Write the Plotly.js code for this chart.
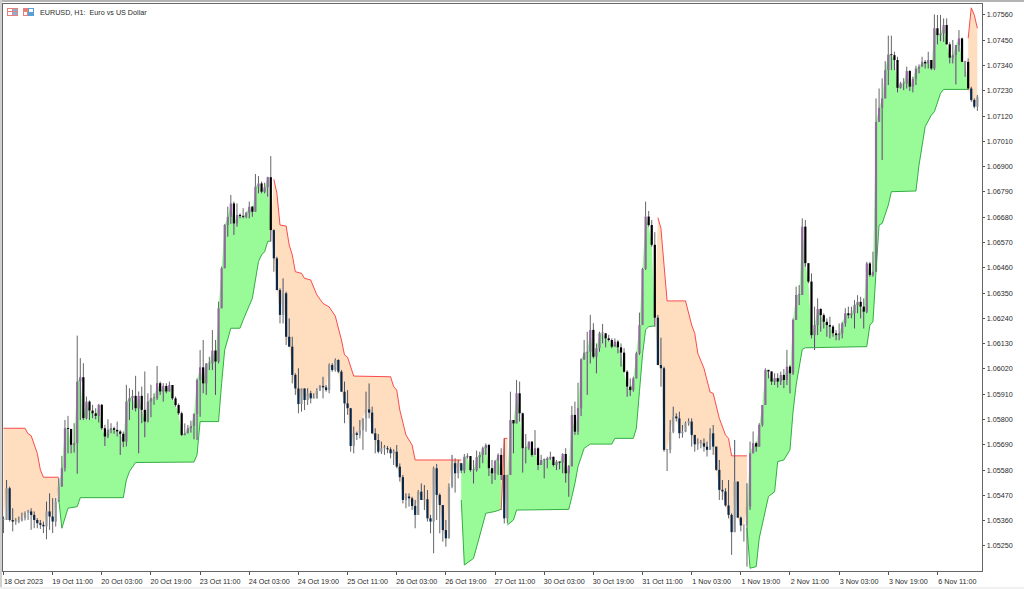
<!DOCTYPE html>
<html><head><meta charset="utf-8">
<script src="https://cdn.plot.ly/plotly-3.0.1.min.js"></script>
<style>html,body{margin:0;padding:0;background:#fff}#c{width:1024px;height:589px}</style>
</head><body><div id="c"></div>
<script>
// values are points above 1.05000 (1 point = 0.00001)
const BASE = 1.05;
const closes = [
363,501,363,356,356,361,371,395,400,385,
363,349,342,335,400,378,356,443,508,588,
762,759,690,697,965,984,806,878,839,827,
816,864,762,726,755,762,755,748,738,704,
878,893,903,849,903,842,791,878,893,893,
958,922,946,922,950,892,863,827,733,740,
762,772,824,972,1027,957,1044,1044,1100,1052,
1284,1458,1646,1682,1740,1653,1690,1685,1682,1700,
1726,1704,1813,1827,1791,1810,1854,1624,1501,1363,
1255,1349,1160,1117,994,935,867,935,885,914,
892,892,925,946,940,928,1037,1015,1059,1008,
921,870,849,685,740,733,754,805,844,830,
740,711,660,675,675,670,653,660,595,549,
450,465,457,424,385,486,450,453,370,356,
588,472,428,319,283,508,610,566,610,578,
638,641,580,580,636,646,675,689,588,566,
621,646,559,370,559,798,783,914,827,675,
675,704,646,675,602,624,624,631,638,602,
617,612,650,566,598,820,747,849,1062,1091,
1095,1190,1073,1110,1175,1175,1153,1146,1117,1139,
1114,1091,1008,943,928,979,1088,1211,1455,1683,
1646,1560,1243,1037,1023,668,668,747,813,805,
740,747,784,791,733,692,697,697,682,668,
740,682,581,494,487,426,385,310,530,373,
339,339,421,653,697,682,777,863,1016,1009,
965,980,965,994,972,1030,1001,1233,1342,1342,
1639,1480,1400,1167,1211,1281,1254,1225,1211,1204,
1175,1167,1175,1218,1262,1254,1262,1298,1312,1291,
1269,1479,1429,1443,2095,2156,2197,2320,2388,2385,
2364,2243,2262,2262,2316,2248,2281,2327,2335,2356,
2349,2364,2327,2502,2472,2480,2516,2432,2374,2385,
2429,2458,2356,2356,2240,2190,2161,2204];
const highs = [
378,537,508,414,371,378,395,400,407,414,
400,371,363,356,443,479,458,458,545,642,
798,816,759,784,1165,1067,1045,900,883,864,
849,868,868,777,801,784,769,791,755,748,
951,936,929,990,922,943,1009,914,951,914,
1033,965,958,958,965,928,900,870,834,783,
776,795,827,979,1102,1146,1044,1073,1189,1146,
1313,1465,1650,1726,1777,1748,1740,1697,1719,1704,
1748,1729,1868,1859,1835,1830,1856,1946,1627,1508,
1371,1414,1356,1240,1160,1001,1023,935,914,936,
925,914,936,950,986,950,1044,1045,1066,1062,
1015,965,928,849,769,747,798,805,921,957,
856,762,737,704,689,685,679,670,689,609,
559,479,479,464,450,493,522,515,493,385,
595,607,479,428,363,522,646,631,624,610,
650,653,641,624,665,660,682,696,694,624,
621,653,675,718,559,921,798,972,965,830,
737,704,704,754,679,646,631,638,660,631,
624,617,653,675,602,859,878,960,1066,1146,
1182,1255,1219,1131,1182,1216,1175,1168,1153,1153,
1146,1131,1110,1015,979,986,1095,1265,1460,1748,
1707,1668,1615,1255,1156,1030,668,798,856,827,
834,776,791,805,805,733,718,711,718,704,
762,776,682,624,537,501,537,392,711,530,
378,339,523,704,748,704,784,863,1023,1016,
1008,1001,1001,1008,1020,1103,1037,1240,1378,1385,
1675,1668,1480,1436,1291,1327,1284,1262,1240,1247,
1211,1189,1218,1225,1284,1291,1291,1320,1341,1334,
1327,1486,1486,1530,2197,2240,2284,2359,2470,2470,
2400,2378,2269,2285,2335,2320,2291,2339,2345,2378,
2364,2400,2364,2562,2560,2560,2545,2545,2441,2451,
2429,2494,2461,2356,2371,2248,2197,2211];
const lows = [
306,363,356,313,342,349,356,361,363,320,
327,327,324,306,279,320,306,334,443,508,
574,653,653,656,564,798,798,801,798,806,
801,787,755,685,719,740,738,726,646,680,
683,798,842,835,653,784,723,787,810,864,
885,907,878,914,928,885,856,820,728,731,
740,743,714,711,812,914,907,1015,1015,907,
1044,1284,1458,1595,1651,1603,1639,1675,1675,1675,
1675,1682,1704,1784,1784,1784,1769,1574,1443,1363,
1218,1218,1124,1117,957,907,827,834,841,863,
870,892,892,928,892,921,914,1008,1008,1001,
921,784,820,660,653,711,718,668,747,805,
737,653,653,650,646,653,631,602,588,530,
435,414,421,406,327,385,450,406,356,305,
218,363,305,269,247,283,501,482,544,566,
566,631,573,522,573,588,610,646,554,520,
537,559,537,348,348,559,653,783,791,569,
609,667,638,646,580,606,544,588,624,595,
580,583,566,525,464,595,733,733,815,1059,
907,1044,1066,1001,1095,1131,1114,1139,1110,1124,
1088,1030,1004,899,902,921,979,1081,1211,1451,
1639,1552,1204,1037,943,660,576,653,740,791,
718,721,745,773,682,660,668,675,660,639,
675,646,577,450,450,421,370,211,356,373,
313,269,160,407,660,660,682,769,863,979,
950,950,939,950,936,950,914,994,1233,1298,
1342,1465,1393,1153,1102,1167,1182,1196,1160,1153,
1160,1145,1145,1153,1204,1240,1240,1196,1262,1240,
1196,1262,1421,1421,1443,2095,1929,2197,2255,2320,
2320,2223,2240,2233,2240,2229,2223,2255,2306,2339,
2327,2327,2320,2320,2432,2446,2443,2432,2349,2349,
2258,2400,2356,2291,2233,2182,2153,2142];

// stop-line vertices: [bar, points]
const redA = [[0,762],[7,762],[8,738],[9,730],[11,653],[12,581],[13,549],[18,549]];
const greenA = [[18,450],[19,327],[21,414],[24,421],[25,460],[39,460],[40,537],[41,574],[43,613],[62,615],[63,646],[64,791],[70,791],[71,957],[72,1102],[74,1197],[77,1197],[78,1233],[81,1327],[83,1487],[84,1516],[85,1530],[86,1574],[87,1577]];
const redB = [[88,1845],[89,1784],[90,1646],[92,1642],[93,1559],[94,1516],[95,1443],[97,1436],[98,1414],[100,1407],[102,1342],[104,1305],[106,1290],[108,1250],[110,1146],[111,1081],[112,1071],[114,989],[126,986],[127,943],[128,928],[129,841],[131,733],[133,689],[134,624],[149,624]];
const greenB = [[149,450],[150,167],[153,196],[157,392],[160,400],[162,409]];
const redC = [[162,406],[163,718],[164,718]];
const greenC = [[164,341],[166,363],[167,406],[184,409],[185,464],[186,522],[187,595],[189,675],[191,693],[198,693],[199,718],[205,718],[206,762],[207,921],[208,1081],[209,1190],[210,1204],[212,1207]];
const redD = [[213,1678],[214,1632],[215,1473],[216,1316],[222,1316],[224,1211],[225,1175],[226,1088],[228,1023],[230,919],[231,914],[233,805],[235,733],[236,718],[237,642],[242,642]];
const greenD = [[242,327],[243,153],[245,160],[246,284],[249,465],[251,486],[252,617],[254,624],[256,668],[257,834],[258,950],[260,1105],[261,1112],[281,1117],[282,1211],[283,1225],[284,1443],[285,1646],[286,1653],[288,1733],[289,1791],[297,1794],[298,1907],[300,2074],[302,2124],[303,2139],[305,2219],[306,2236],[314,2236]];
const redE = [[314,2458],[315,2591],[316,2559],[317,2502]];

const zones = [
 {kind:'red',stops:redA,from:0,to:18},{kind:'green',stops:greenA,from:18,to:87},
 {kind:'red',stops:redB,from:87,to:149},{kind:'green',stops:greenB,from:149,to:162},
 {kind:'red',stops:redC,from:162,to:164},{kind:'green',stops:greenC,from:164,to:212},
 {kind:'red',stops:redD,from:212,to:242},{kind:'green',stops:greenD,from:242,to:314},
 {kind:'red',stops:redE,from:314,to:317}];

const xTickText = ['18 Oct 2023','19 Oct 11:00','20 Oct 03:00','20 Oct 19:00','23 Oct 11:00','24 Oct 03:00','24 Oct 19:00','25 Oct 11:00','26 Oct 03:00','26 Oct 19:00','27 Oct 11:00','30 Oct 03:00','30 Oct 19:00','31 Oct 11:00','1 Nov 03:00','1 Nov 19:00','2 Nov 11:00','3 Nov 03:00','3 Nov 19:00','6 Nov 11:00'];
const title = 'EURUSD, H1:\u00a0 Euro vs US Dollar';

const P = v => BASE + v/1e5;
const traces = [];
// fills
zones.forEach(z=>{
  const xs = z.stops.map(s=>s[0]), ys = z.stops.map(s=>P(s[1]));
  for(let i=z.to;i>=z.from;i--){xs.push(i);ys.push(P(closes[i]));}
  traces.push({type:'scatter',x:xs,y:ys,mode:'none',fill:'toself',hoverinfo:'skip',showlegend:false,
    fillcolor:z.kind==='red'?'#FFDDBF':'#98FB98'});
});
const zoneOf = i => { for(let k=zones.length-1;k>=0;k--) if(i>=zones[k].from && (i>zones[k].from || k===0)) return zones[k].kind; return 'red'; };
// candle pieces grouped by look
const seg = {wBlack:[[],[]],wPurple:[[],[]],wNavy:[[],[]],bBlack:[[],[]],bNavy:[[],[]],bPurple:[[],[]],bGray:[[],[]]};
const add=(k,i,a,b)=>{ if(a===b) return; seg[k][0].push(i,i,null); seg[k][1].push(P(a),P(b),null); };
closes.forEach((c,i)=>{
  const o = i?closes[i-1]:c, hi=Math.max(highs[i],o,c), lo=Math.min(lows[i],o,c), g=zoneOf(i)==='green';
  add(g?'wBlack':'wNavy',i,c,hi);
  add(g?'wPurple':'wBlack',i,lo,c);
  let a=Math.min(o,c), b=Math.max(o,c); if(b-a<4){b=a+4;}
  const down=c<o;
  add(g?(down?'bBlack':'bPurple'):(down?'bNavy':'bGray'),i,a,b);
});
const style={wBlack:['#666666',1],wPurple:['#6f3a80',1],wNavy:['#44546a',1],
  bPurple:['#8f6a9a',2.2],bGray:['#949494',2.2],bBlack:['#000000',2.2],bNavy:['#06264a',2.2]};
Object.keys(style).forEach(k=>{
  traces.push({type:'scatter',mode:'lines',x:seg[k][0],y:seg[k][1],hoverinfo:'skip',showlegend:false,
    connectgaps:false,line:{color:style[k][0],width:style[k][1],simplify:false}});
});
// stop lines
zones.forEach(z=>{
  traces.push({type:'scatter',mode:'lines',x:z.stops.map(s=>s[0]),y:z.stops.map(s=>P(s[1])),hoverinfo:'skip',showlegend:false,
    line:{color:z.kind==='red'?'#f8383c':'#22a432',width:0.9,simplify:false}});
});

const yTicks=[]; for(let k=0;k<=21;k++) yTicks.push(+(1.0525+k*0.0011).toFixed(5));
const font='"Liberation Sans", Arial, sans-serif';
const FS=7.2;
// helpers for chrome in page pixels
const px=x=>(x-3)/979, py=y=>(571-y)/567;
const rect=(x0,y0,x1,y1,c)=>({type:'rect',xref:'paper',yref:'paper',x0:px(x0),x1:px(x1),y0:py(y0),y1:py(y1),fillcolor:c,line:{width:0},layer:'above'});
const shapes=[
 rect(0,0,1024,2,'#b4b4b4'),rect(0,0,2,589,'#d0d0d0'),rect(0,587,1024,589,'#f0f0f0'),
 rect(7,8,18,16,'#e8807a'),rect(8,9,12,11,'#ffffff'),rect(8,12,12,15,'#ffffff'),rect(13,9,17,11,'#7fb4e0'),rect(13,12,17,15,'#7fb4e0'),
 rect(23,8,28,16,'#e8807a'),rect(28,8,34,16,'#5c9fd6'),rect(24,12,27,15,'#ffffff'),rect(29,9,33,12,'#ffffff')
];
Plotly.newPlot('c',traces,{
  width:1024,height:589,margin:{l:3,r:42,t:4,b:18,pad:0},
  paper_bgcolor:'#ffffff',plot_bgcolor:'#ffffff',showlegend:false,
  font:{family:font,size:FS,color:'#2a2a2a'},
  xaxis:{range:[-0.16,318.5],tickmode:'array',tickvals:xTickText.map((t,k)=>16*k),ticktext:xTickText,
    ticks:'outside',ticklen:3,tickcolor:'#555',tickwidth:1,showgrid:false,zeroline:false,
    showline:true,mirror:true,linecolor:'#666',linewidth:1.3,ticklabelshift:20,tickangle:0,
    tickfont:{family:font,size:FS,color:'#2a2a2a'},automargin:false},
  yaxis:{range:[1.051410,1.076076],side:'right',tickmode:'array',tickvals:yTicks,
    ticktext:yTicks.map(v=>v.toFixed(5)),ticks:'outside',ticklen:2,tickcolor:'#555',tickwidth:1,showgrid:false,zeroline:false,
    showline:true,mirror:true,linecolor:'#666',linewidth:1.3,
    tickfont:{family:font,size:FS,color:'#2a2a2a'},automargin:false},
  shapes:shapes,
  annotations:[{xref:'paper',yref:'paper',x:px(37.5),y:py(12),xanchor:'left',yanchor:'middle',showarrow:false,text:title,
    font:{family:font,size:FS,color:'#2a2a2a'}}]
},{displayModeBar:false,staticPlot:true});
</script></body></html>
